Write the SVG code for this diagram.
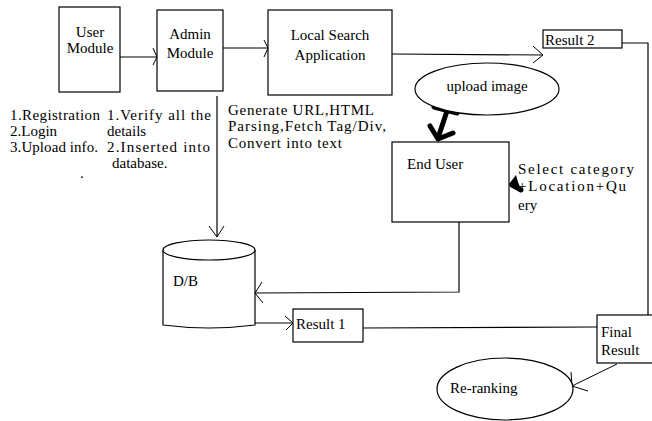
<svg xmlns="http://www.w3.org/2000/svg" width="652" height="421" viewBox="0 0 652 421">
<style>
.b{fill:#fff;stroke:#000;stroke-width:1.2}
.l{fill:none;stroke:#000;stroke-width:1.2}
.a{fill:none;stroke:#000;stroke-width:1}
.k{fill:none;stroke:#000;stroke-width:5;stroke-linecap:round;stroke-linejoin:round}
text{font-family:'Liberation Serif','DejaVu Serif','Noto Serif',serif;font-size:15px;fill:#000}
.c{text-anchor:middle}
</style>
<rect width="652" height="421" fill="#fff"/>
<g id="connectors">
<line class="l" x1="120" y1="57" x2="157" y2="57"/>
<polyline class="a" points="153,48 157,57 153,65"/>
<line class="l" x1="223" y1="48" x2="268" y2="48"/>
<polyline class="a" points="264,40 268,48 264,57"/>
<line class="l" x1="217" y1="96" x2="217" y2="237"/>
<polyline class="a" points="209,226 217,237 224,226"/>
<line class="l" x1="392" y1="54" x2="543" y2="55"/>
<polyline class="a" points="533,46 543,55 533,63"/>
<polyline class="l" points="622,43 648,43 648,322"/>
<path class="k" d="M434 107 L457 113"/>
<path class="k" d="M447 111 L438 138"/>
<path class="k" d="M430 126 L438 139 L453 133"/>
<path class="k" d="M521 190 L512 185" stroke-width="4"/>
<path d="M509 184 L516 175 L518 182 L522 192 Z" fill="#000"/>
<polyline class="l" points="459,222 459,292 255,293"/>
<polyline class="a" points="262,282 255,293 263,303"/>
<line class="l" x1="255" y1="323" x2="293" y2="323"/>
<polyline class="a" points="285,316 293,323 286,330"/>
<line class="l" x1="363" y1="328" x2="597" y2="327"/>
<line class="a" x1="617" y1="364" x2="572" y2="386"/>
<polyline class="a" points="571,372 572,386 588,391"/>
</g>
<g id="user-module">
<rect class="b" x="59" y="7" width="61" height="85"/>
<text class="c" x="90" y="37">User</text>
<text class="c" x="90" y="53">Module</text>
</g>
<g id="admin-module">
<rect class="b" x="157" y="10" width="66" height="81"/>
<text class="c" x="190" y="39">Admin</text>
<text class="c" x="190" y="58">Module</text>
</g>
<g id="local-search">
<rect class="b" x="268" y="10" width="124" height="85"/>
<text class="c" x="330" y="40">Local Search</text>
<text class="c" x="330" y="60">Application</text>
</g>
<g id="result-2">
<rect class="b" x="543" y="30" width="79" height="18"/>
<text x="545" y="45">Result 2</text>
</g>
<g id="upload-image">
<ellipse class="b" cx="487" cy="89" rx="72" ry="26"/>
<text class="c" x="487" y="91">upload image</text>
</g>
<g id="end-user">
<rect class="b" x="392" y="142" width="117" height="80"/>
<text x="407" y="169">End User</text>
</g>
<g id="db">
<path class="b" d="M163 250 L163 325 Q209 331 255 325 L255 250"/>
<ellipse class="b" cx="209" cy="250" rx="46" ry="10"/>
<text x="173" y="286">D/B</text>
</g>
<g id="result-1">
<rect class="b" x="293" y="309" width="70" height="33"/>
<text x="296" y="329">Result 1</text>
</g>
<g id="final-result">
<rect class="b" x="597" y="315" width="70" height="48"/>
<text x="601" y="337">Final</text>
<text x="601" y="355">Result</text>
</g>
<g id="re-ranking">
<ellipse class="b" cx="505" cy="389" rx="68" ry="31"/>
<text x="450" y="393">Re-ranking</text>
</g>
<g id="labels">
<text x="10" y="120" textLength="90" lengthAdjust="spacing">1.Registration</text>
<text x="10" y="136">2.Login</text>
<text x="10" y="152" textLength="88" lengthAdjust="spacing">3.Upload info.</text>
<text x="80" y="178">.</text>
<text x="107" y="120" textLength="104" lengthAdjust="spacing">1.Verify all the</text>
<text x="107" y="136">details</text>
<text x="107" y="152" textLength="103" lengthAdjust="spacing">2.Inserted into</text>
<text x="112" y="168">database.</text>
<text x="228" y="115" textLength="146" lengthAdjust="spacing">Generate URL,HTML</text>
<text x="228" y="131" textLength="158" lengthAdjust="spacing">Parsing,Fetch Tag/Div,</text>
<text x="228" y="148" textLength="114" lengthAdjust="spacing">Convert into text</text>
<text x="518" y="174" textLength="116" lengthAdjust="spacing">Select category</text>
<text x="518" y="191" textLength="108" lengthAdjust="spacing">+Location+Qu</text>
<text x="518" y="210">ery</text>
</g>
</svg>
